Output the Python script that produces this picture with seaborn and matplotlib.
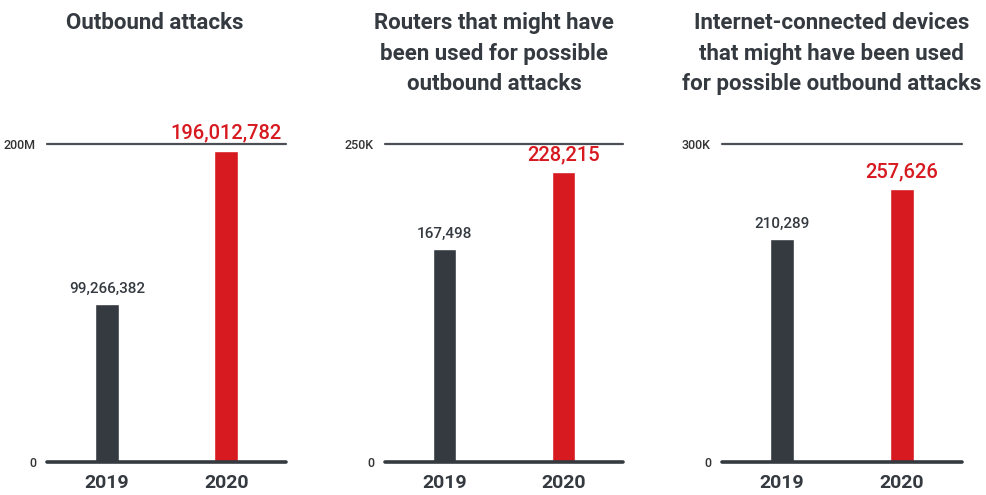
import matplotlib
matplotlib.use("Agg")
import matplotlib.pyplot as plt
import seaborn as sns
from matplotlib import font_manager

# chart data
years = ["2019", "2020"]
outbound_attacks = [99266382, 196012782]
routers_used = [167498, 228215]
devices_used = [210289, 257626]

titles = [
    "Outbound attacks",
    "Routers that might have\nbeen used for possible\noutbound attacks",
    "Internet-connected devices\nthat might have been used\nfor possible outbound attacks",
]
top_ticks = [200_000_000, 250_000, 300_000]
top_tick_labels = ["200M", "250K", "300K"]

DARK = "#343a40"
RED = "#d71920"

sns.set_theme(style="white")
names = {f.name for f in font_manager.fontManager.ttflist}
narrow = "Liberation Sans Narrow" if "Liberation Sans Narrow" in names else "Roboto"
plt.rcParams["font.family"] = ["Roboto", "DejaVu Sans"]

fig = plt.figure(figsize=(9.86, 4.95), dpi=100)

# axes boxes in figure fractions (left, width) and title centres
lefts = [0.0477, 0.3905, 0.7323]
widths = [0.2424, 0.2414, 0.2434]
title_x = [0.157, 0.501, 0.843]
bottom, height = 0.0667, 0.642

series = [outbound_attacks, routers_used, devices_used]

for i, vals in enumerate(series):
    ax = fig.add_axes([lefts[i], bottom, widths[i], height])
    sns.barplot(x=years, y=vals, hue=years, palette=[DARK, RED],
                width=0.2, legend=False, ax=ax, saturation=1)
    ax.set_xlim(-0.5, 1.5)
    ax.set_ylim(0, top_ticks[i])
    for s in ax.spines.values():
        s.set_visible(False)
    ax.axhline(0, color=DARK, lw=2.6, clip_on=False, zorder=3)
    ax.axhline(top_ticks[i], color="#4a4f55", lw=1.6, clip_on=False, zorder=3)
    ax.set_yticks([0, top_ticks[i]])
    ax.set_yticklabels(["0", top_tick_labels[i]], fontsize=9, color="#333",
                       fontweight="medium")
    ax.tick_params(axis="y", length=0, pad=8)
    ax.tick_params(axis="x", length=0, pad=9)
    for lab in ax.get_xticklabels():
        lab.set_fontsize(14)
        lab.set_fontweight("bold")
        lab.set_color(DARK)
        lab.set_family([narrow, "DejaVu Sans"])
    ax.set_xlabel("")
    ax.set_ylabel("")
    # value labels
    off = top_ticks[i] * 0.025
    ax.text(0, vals[0] + off, f"{vals[0]:,}", ha="center", va="bottom",
            fontsize=11, color=DARK, fontweight="medium", clip_on=False)
    ax.text(1, vals[1] + off, f"{vals[1]:,}", ha="center", va="bottom",
            fontsize=14.5, color=RED, fontweight="medium", clip_on=False)
    fig.text(title_x[i], 0.975, titles[i], ha="center", va="top",
             fontsize=16, fontweight="bold", color=DARK, linespacing=1.48,
             family=[narrow, "DejaVu Sans"])

fig.savefig("out.png", dpi=100)
